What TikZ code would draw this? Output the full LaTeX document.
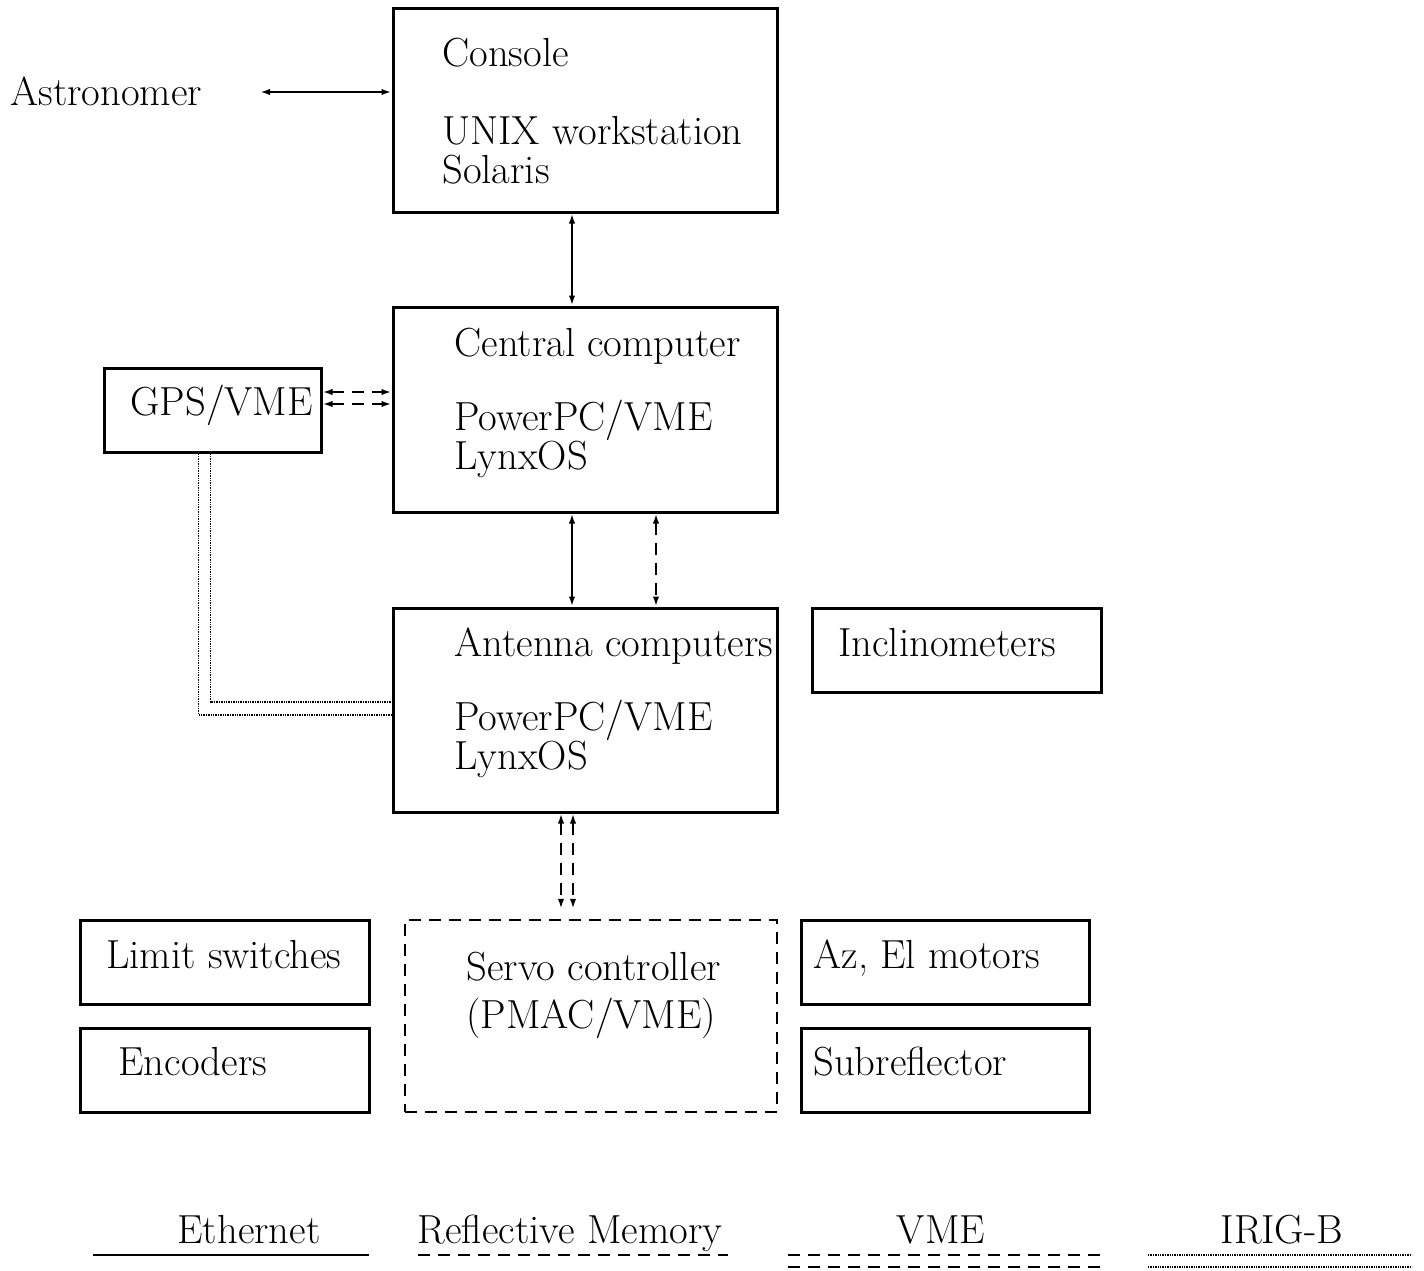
\documentclass[tikz,border=0pt]{standalone}
\usepackage{tikz}
\usetikzlibrary{arrows.meta,positioning,calc,fit}

\begin{document}
\begin{tikzpicture}[
    x=0.5pt, y=-0.5pt,
    box/.style={draw, line width=1.5pt, inner sep=0pt},
    dashbox/.style={box, line width=1.2pt, dash pattern=on 6pt off 4pt},
    txt/.style={inner sep=0pt, anchor=base west, align=left, font=\fontsize{20.3}{19.5}\selectfont},
    link/.style={line width=1pt, {Latex[length=5pt,width=3.2pt]}-{Latex[length=5pt,width=3.2pt]}},
    vmelink/.style={link, dash pattern=on 6pt off 4pt},
    legline/.style={line width=1pt},
    irig/.style={line width=0.7pt, dash pattern=on 0.7pt off 0.5pt}
]
\useasboundingbox (0,0) rectangle (1424,1270);

% boxes
\node[box, fit={(393,8) (777,212)}] (console) {};
\node[box, fit={(393,307) (777,512)}] (central) {};
\node[box, fit={(104,368) (321,452)}] (gps) {};
\node[box, fit={(393,608) (777,812)}] (antenna) {};
\node[box, fit={(812,608) (1101,692)}] (incli) {};
\node[box, fit={(80,920) (369,1004)}] (limit) {};
\node[box, fit={(80,1028) (369,1112)}] (encoder) {};
\node[dashbox, fit={(405,920) (777,1112)}] (servo) {};
\node[box, fit={(801,920) (1089,1004)}] (motors) {};
\node[box, fit={(801,1028) (1089,1112)}] (subrefl) {};

% texts (base = last line)
\node[txt] (astro) at (10,105) {Astronomer};
\node[txt] (consoletxt) at (442,183) {Console\\[19.5pt]UNIX workstation\\Solaris};
\node[txt] (centraltxt) at (454,469) {Central computer\\[17.5pt]PowerPC/VME\\LynxOS};
\node[txt] (gpstxt) at (130,415) {GPS/VME};
\node[txt] (antennatxt) at (454,769) {Antenna computers\\[17.5pt]PowerPC/VME\\LynxOS};
\node[txt] (inclitxt) at (838,656) {Inclinometers};
\node[txt] (limittxt) at (106,968) {Limit switches};
\node[txt] (enctxt) at (118,1075) {Encoders};
\node[txt] (servotxt) at (466,1028) {Servo controller\\[4.5pt](PMAC/VME)};
\node[txt] (motorstxt) at (813,968) {Az, El motors};
\node[txt] (subrefltxt) at (813,1075) {Subreflector};

% connections
\coordinate (astroend) at (260,92);
\draw[link] (astroend) -- (console.west |- astroend);
\draw[link] ($(console.south)+(-13,0)$) -- ($(central.north)+(-13,0)$);
\draw[vmelink] ($(gps.east)+(0,-18)$) -- ($(central.west |- gps.east)+(0,-18)$);
\draw[vmelink] ($(gps.east)+(0,-6)$) -- ($(central.west |- gps.east)+(0,-6)$);
\draw[link] ($(central.south)+(-13,0)$) -- ($(antenna.north)+(-13,0)$);
\draw[vmelink] ($(central.south)+(71,0)$) -- ($(antenna.north)+(71,0)$);
\draw[vmelink] ($(antenna.south)+(-24,0)$) -- ($(servo.north)+(-30,-10)$);
\draw[vmelink] ($(antenna.south)+(-12,0)$) -- ($(servo.north)+(-18,-10)$);
% IRIG-B
\draw[irig] ($(gps.south west)+(96,0)$) |- ($(antenna.west)+(0,5)$);
\draw[irig] ($(gps.south west)+(108,0)$) |- ($(antenna.west)+(0,-8)$);

% legend
\node[txt, anchor=base] (ethtxt) at (249,1243) {Ethernet};
\node[txt, anchor=base] (rmtxt) at (570,1243) {Reflective Memory};
\node[txt, anchor=base] (vmetxt) at (941,1243) {VME};
\node[txt, anchor=base] (irigtxt) at (1282,1243) {IRIG-B};
\coordinate (e1) at (93,1255);   \coordinate (e2) at (369,1255);
\coordinate (r1) at (418,1255);  \coordinate (r2) at (728,1255);
\coordinate (v1) at (788,1255);  \coordinate (v2) at (1101,1255);
\coordinate (i1) at (1148,1255); \coordinate (i2) at (1412,1255);
\draw[legline] (e1) -- (e2);
\draw[legline, dash pattern=on 6pt off 4pt] (r1) -- (r2);
\draw[legline, dash pattern=on 6pt off 4pt] (v1) -- (v2);
\draw[legline, dash pattern=on 6pt off 4pt] ($(v1)+(0,12)$) -- ($(v2)+(0,12)$);
\draw[irig] (i1) -- (i2);
\draw[irig] ($(i1)+(0,12)$) -- ($(i2)+(0,12)$);
\end{tikzpicture}
\end{document}
